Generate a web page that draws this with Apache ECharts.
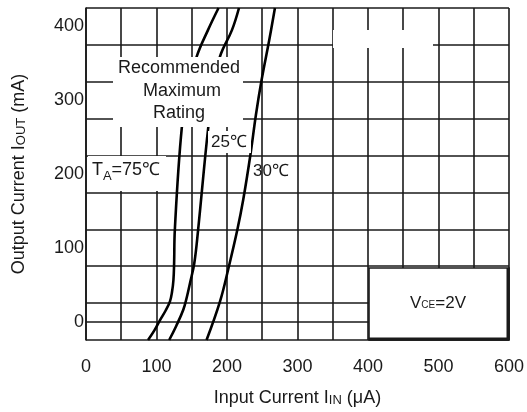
<!DOCTYPE html>
<html>
<head>
<meta charset="utf-8">
<script src="https://cdn.jsdelivr.net/npm/echarts@6/dist/echarts.min.js"></script>
<style>
  html, body { margin: 0; padding: 0; background: #fff; }
  #chart { width: 527px; height: 412px; }
</style>
</head>
<body>
<div id="chart"></div>
<script>
// curves: input current (uA) vs output current (mA)
const curve75X = [88, 97, 105, 113, 119, 122, 124, 125, 126, 136, 145, 157, 173, 188];
const curve75Y = [-25, -12, 2, 15, 27, 40, 56, 79, 124, 264, 314, 359, 395, 425];
const curve25X = [118, 128, 138, 143, 147.5, 153.6, 159, 173.5, 181, 190, 207, 217];
const curve25Y = [-25, -6, 16, 33, 52, 79, 124, 264, 314, 359, 395, 425];
const curve30X = [171, 190, 202, 214.6, 223, 233.6, 241, 249, 260, 268];
const curve30Y = [-25, 27, 72, 124, 165, 228.5, 280, 327, 382, 425];

const xTickLabels = [0, 100, 200, 300, 400, 500, 600];
const yTickLabels = [0, 100, 200, 300, 400];

const FONT = "'Liberation Sans', Arial, sans-serif";
const INK = '#1a1a1a';

function pairs(xs, ys) {
  return xs.map((x, i) => [x, ys[i]]);
}

const gridLine = { show: true, lineStyle: { color: INK, width: 1.6 } };

const myChart = echarts.init(document.getElementById('chart'));

const option = {
  backgroundColor: '#fff',
  animation: false,
  grid: { left: 86, right: 18, top: 8, bottom: 72 },
  xAxis: {
    type: 'value',
    min: 0,
    max: 600,
    interval: 50,
    name: 'Input Current I{s|IN} (μA)',
    nameLocation: 'middle',
    nameGap: 49,
    nameTextStyle: {
      color: INK, fontFamily: FONT, fontSize: 18,
      rich: { s: { fontSize: 13, fontFamily: FONT, color: INK, padding: [4, 0, 0, 0] } }
    },
    axisLine: { show: true, lineStyle: { color: INK, width: 1.6 } },
    axisTick: { show: false },
    axisLabel: {
      margin: 18,
      color: INK, fontFamily: FONT, fontSize: 18,
      formatter: v => (xTickLabels.indexOf(v) >= 0 ? String(v) : '')
    },
    splitLine: gridLine
  },
  yAxis: [
    {
      // grid lines, offset half a step from the labels
      type: 'value',
      min: -25,
      max: 425,
      interval: 50,
      axisLine: { show: true, lineStyle: { color: INK, width: 1.6 } },
      axisTick: { show: false },
      axisLabel: { show: false },
      splitLine: gridLine
    },
    {
      // tick labels only
      type: 'value',
      position: 'left',
      min: -25,
      max: 425,
      interval: 25,
      name: 'Output Current I{s|OUT} (mA)',
      nameLocation: 'middle',
      nameGap: 58,
      nameTextStyle: {
        color: INK, fontFamily: FONT, fontSize: 18,
        rich: { s: { fontSize: 13, fontFamily: FONT, color: INK, padding: [4, 0, 0, 0] } }
      },
      axisLine: { show: false },
      axisTick: { show: false },
      splitLine: { show: false },
      axisLabel: {
        margin: 2,
        color: INK, fontFamily: FONT, fontSize: 18,
        formatter: v => (yTickLabels.indexOf(v) >= 0 ? String(v) : '')
      }
    }
  ],
  series: [
    { name: '75', data: pairs(curve75X, curve75Y) },
    { name: '25', data: pairs(curve25X, curve25Y) },
    { name: '30', data: pairs(curve30X, curve30Y) }
  ].map(s => ({
    name: s.name,
    type: 'line',
    yAxisIndex: 0,
    data: s.data,
    smooth: 0.4,
    showSymbol: false,
    clip: true,
    lineStyle: { color: '#000', width: 2.6 }
  })),
  graphic: [
    // Recommended Maximum Rating
    { type: 'rect', z: 100, shape: { x: 113, y: 57, width: 130, height: 70 }, style: { fill: '#fff' } },
    { type: 'text', z: 101, style: { text: 'Recommended', x: 179, y: 68, textAlign: 'center', textVerticalAlign: 'middle', font: '18px ' + FONT, fill: INK } },
    { type: 'text', z: 101, style: { text: 'Maximum', x: 182, y: 91, textAlign: 'center', textVerticalAlign: 'middle', font: '18px ' + FONT, fill: INK } },
    { type: 'text', z: 101, style: { text: 'Rating', x: 179, y: 113, textAlign: 'center', textVerticalAlign: 'middle', font: '18px ' + FONT, fill: INK } },
    // TA = 75
    { type: 'rect', z: 100, shape: { x: 88, y: 156, width: 78, height: 35 }, style: { fill: '#fff' } },
    {
      type: 'text', z: 101,
      style: {
        text: 'T{s|A}=75℃', x: 126, y: 170, textAlign: 'center', textVerticalAlign: 'middle',
        font: '18px ' + FONT, fill: INK,
        rich: { s: { fontSize: 13, fontFamily: FONT, fill: INK, padding: [12, 0, 0, 0] } }
      }
    },
    // 25
    { type: 'rect', z: 100, shape: { x: 208, y: 131, width: 43, height: 22 }, style: { fill: '#fff' } },
    { type: 'text', z: 101, style: { text: '25℃', x: 229, y: 142, textAlign: 'center', textVerticalAlign: 'middle', font: '17px ' + FONT, fill: INK } },
    // 30
    { type: 'text', z: 101, style: { text: '30℃', x: 253, y: 171, textAlign: 'left', textVerticalAlign: 'middle', font: '17px ' + FONT, fill: INK } },
    // blank patch top right
    { type: 'rect', z: 100, shape: { x: 333, y: 30, width: 100, height: 18 }, style: { fill: '#fff' } },
    // VCE box
    { type: 'rect', z: 100, shape: { x: 369, y: 268, width: 140, height: 72 }, style: { fill: '#fff', stroke: INK, lineWidth: 1.6 } },
    { type: 'polyline', z: 101, shape: { points: [[369, 339], [508, 339], [508, 268]] }, style: { stroke: INK, lineWidth: 3, fill: null } },
    {
      type: 'text', z: 101,
      style: {
        text: 'V{s|CE}=2V', x: 438, y: 303, textAlign: 'center', textVerticalAlign: 'middle',
        font: '17px ' + FONT, fill: INK,
        rich: { s: { fontSize: 10, fontFamily: FONT, fill: INK, padding: [5, 0, 0, 0] } }
      }
    }
  ]
};

myChart.setOption(option);
</script>
</body>
</html>
